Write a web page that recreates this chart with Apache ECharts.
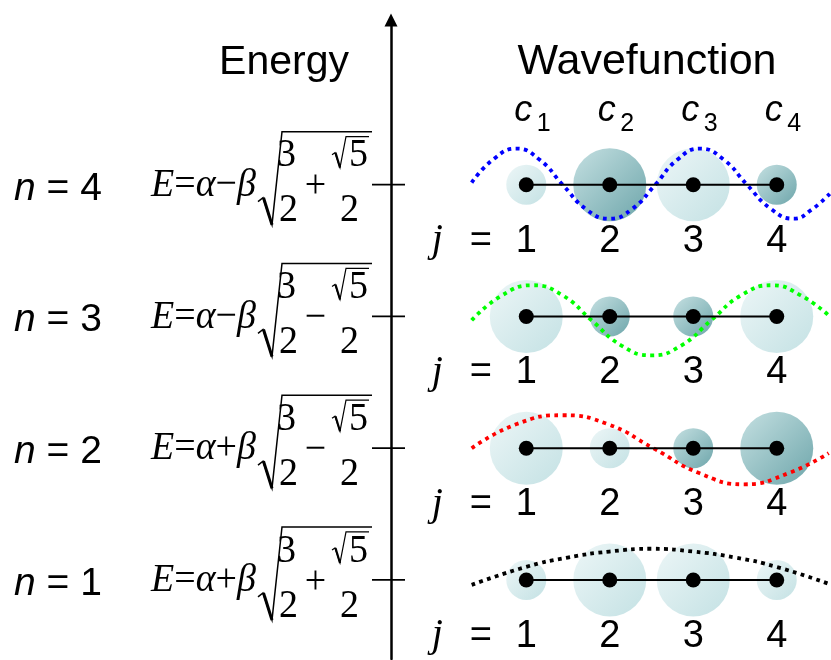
<!DOCTYPE html>
<html><head><meta charset="utf-8">
<script src="https://cdn.jsdelivr.net/npm/echarts@6/dist/echarts.min.js"></script>
<style>html,body{margin:0;padding:0;background:#fff}#c{width:831px;height:660px}</style>
</head><body><div id="c"></div>
<script>
// ---- data ----
const levels = [1, 2, 3, 4];                 // energy levels n
const atoms = [1, 2, 3, 4];                  // atom index j
const atomLabels = ['1', '2', '3', '4'];
const betaSign = ['+', '+', '\u2212', '\u2212'];   // sign before beta, n = 1..4
const rootSign = ['+', '\u2212', '\u2212', '+'];   // sign inside the root, n = 1..4
const coefN1 = [0.372, 0.602, 0.602, 0.372];
const coefN2 = [0.602, 0.372, -0.372, -0.602];
const coefN3 = [0.602, -0.372, -0.372, 0.602];
const coefN4 = [0.372, -0.602, 0.602, -0.372];
// wavefunction curves: [j, psi] (psi in units of curve amplitude)
const waveN1 = [[0.346,-0.14],[0.994,0.37],[1.495,0.64],[1.996,0.81],[2.498,0.89],[2.999,0.81],[3.500,0.64],[4.001,0.37],[4.622,-0.11]];
const waveN2 = [[0.346,0],[0.887,0.69],[1.436,0.94],[1.973,0.69],[2.522,0],[3.071,-0.71],[3.608,-1.03],[4.145,-0.71],[4.622,-0.14]];
const waveN3 = [[0.346,-0.11],[0.708,0.60],[1.077,0.89],[1.436,0.60],[1.782,-0.11],[2.140,-0.83],[2.498,-1.11],[2.856,-0.83],[3.214,-0.11],[3.572,0.60],[3.942,0.89],[4.288,0.60],[4.622,0.03]];
const waveN4 = [[0.346,0.06],[0.612,0.74],[0.883,1.03],[1.161,0.71],[1.436,0],[1.722,-0.71],[1.996,-0.97],[2.270,-0.69],[2.545,0],[2.808,0.71],[3.082,1.03],[3.368,0.71],[3.643,0],[3.930,-0.69],[4.204,-0.97],[4.419,-0.71],[4.634,-0.26]];

// ---- build ----
const coefRows = [coefN1, coefN2, coefN3, coefN4];
const waveRows = [waveN1, waveN2, waveN3, waveN4];
const waveColors = ['#000000', '#ff0000', '#00ff00', '#0000ff'];
const waveScale = 0.266;
const SERIF = '"Liberation Serif", "Times New Roman", serif';
const SANS = '"Liberation Sans", Arial, sans-serif';

const allAbs = coefRows.flat().map(Math.abs);
const cMin = Math.min(...allAbs), cMax = Math.max(...allAbs);
const sizeOf = c => 40 + (Math.abs(c) - cMin) / (cMax - cMin) * 33;
const lightFill = {type:'linear', x:0, y:0, x2:1, y2:1, colorStops:[{offset:0,color:'#e8f4f5'},{offset:1,color:'#b5dadd'}]};
const darkFill = {type:'linear', x:0, y:0, x2:1, y2:1, colorStops:[{offset:0,color:'#b6d8da'},{offset:1,color:'#4a9096'}]};

function T(text, x, y, size, family, align, extra) {
  return Object.assign({type:'text', x:x, y:y, style:{text:text, fontSize:size, fontFamily:family, fill:'#000',
    align:align, textAlign:align, verticalAlign:'middle', textVerticalAlign:'middle'}}, extra || {});
}

function renderFormula(params, api) {
  const r = params.dataIndex;
  const n = api.value(1);
  const y0 = api.coord([0, n])[1];
  const X = v => api.coord([v, n])[0];
  const P = (x, dy) => [X(x), y0 + dy];
  const tall = {scaleY:1.07};
  const children = [];
  const nl = T('{i|n} = ' + n, X(14), y0 + 4.2, 39, SANS, 'left');
  nl.style.rich = {i:{fontStyle:'italic', fontSize:39, fontFamily:SANS}};
  children.push(nl);
  const main = T('{i|E}={i|\u03b1}' + betaSign[r] + '{i|\u03b2}', X(151), y0 + 0.5, 38, SERIF, 'left', tall);
  main.style.rich = {i:{fontStyle:'italic', fontSize:38, fontFamily:SERIF}};
  children.push(main);
  children.push(T('3', X(286.5), y0 - 29, 38, SERIF, 'center', tall));
  children.push(T('2', X(288.5), y0 + 26, 38, SERIF, 'center', tall));
  children.push(T(rootSign[r], X(315.5), y0 + 2, 38, SERIF, 'center', tall));
  children.push(T('5', X(358.5), y0 - 29, 38, SERIF, 'center', tall));
  children.push(T('2', X(349.5), y0 + 26, 38, SERIF, 'center', tall));
  // big radical
  children.push({type:'polyline', shape:{points:[P(258,17),P(263,13),P(272,40),P(282,-53),P(372,-53)]},
    style:{stroke:'#000', lineWidth:1.5, fill:null}});
  children.push({type:'line', shape:{x1:X(263.5), y1:y0+13, x2:X(272), y2:y0+40}, style:{stroke:'#000', lineWidth:3}});
  // small radical
  children.push({type:'polyline', shape:{points:[P(332,-30),P(335,-32),P(340,-17),P(346,-48),P(369,-48)]},
    style:{stroke:'#000', lineWidth:1.2, fill:null}});
  children.push({type:'line', shape:{x1:X(335.5), y1:y0-32, x2:X(340), y2:y0-17}, style:{stroke:'#000', lineWidth:2.2}});
  // level tick across the energy axis
  children.push({type:'line', shape:{x1:X(372), y1:y0, x2:X(405), y2:y0}, style:{stroke:'#000', lineWidth:1.8}});
  return {type:'group', children:children};
}

function renderLabels(params, api) {
  const n = api.value(1);
  const y0 = api.coord([1, n])[1];
  const Xj = j => api.coord([j, n])[0];
  const children = [];
  atoms.forEach((j, k) => children.push(T(atomLabels[k], Xj(j), y0 + 56.5, 38, SANS, 'center')));
  const jl = T('j', Xj(1) - 89, y0 + 56, 40, SERIF, 'center');
  jl.style.fontStyle = 'italic';
  children.push(jl);
  children.push(T('=', Xj(1) - 45.5, y0 + 56.5, 38, SANS, 'center'));
  if (n === Math.max(...levels)) {
    atoms.forEach((j, k) => {
      const c = T('c', Xj(j) - 12, y0 - 73.9, 36, SANS, 'left');
      c.style.fontStyle = 'italic';
      children.push(c);
      children.push(T(atomLabels[k], Xj(j) + 10.5, y0 - 60.5, 25, SANS, 'left'));
    });
  }
  return {type:'group', children:children};
}

const circleData = [];
levels.forEach((n, r) => atoms.forEach((j, k) => {
  const c = coefRows[r][k];
  circleData.push({value:[j, n, c], symbolSize:sizeOf(c), itemStyle:{color: c >= 0 ? lightFill : darkFill}});
}));

const series = [
  {type:'custom', xAxisIndex:0, yAxisIndex:0, data: levels.map(n => [0, n]), renderItem: renderFormula, silent:true, z:5},
  {type:'custom', xAxisIndex:1, yAxisIndex:1, data: levels.map(n => [1, n]), renderItem: renderLabels, silent:true, z:5},
  {type:'scatter', xAxisIndex:1, yAxisIndex:1, data: circleData, symbol:'circle', silent:true, z:2, clip:false}
];
levels.forEach((n, r) => {
  series.push({type:'line', xAxisIndex:1, yAxisIndex:1, smooth:true, showSymbol:false, silent:true, clip:false, z:3,
    data: waveRows[r].map(p => [p[0], n + p[1] * waveScale]),
    lineStyle:{color:waveColors[r], width:3.8, type:[3.8, 4.4], cap:'butt'}});
  series.push({type:'line', xAxisIndex:1, yAxisIndex:1, silent:true, clip:false, z:4,
    data: atoms.map(j => [j, n]), symbol:'circle', symbolSize:15, showAllSymbol:true,
    itemStyle:{color:'#000'}, lineStyle:{color:'#000', width:2}});
});

const yMin = 0.4, yMax = 5.25;
const chart = echarts.init(document.getElementById('c'), null, {renderer:'canvas'});
chart.setOption({
  animation:false,
  backgroundColor:'#ffffff',
  grid:[
    {left:0, width:391, top:20, bottom:1},
    {left:467.84, width:364.53, top:20, bottom:1}
  ],
  xAxis:[
    {gridIndex:0, type:'value', min:0, max:391, show:false},
    {gridIndex:1, type:'value', min:0.3, max:4.65, show:false}
  ],
  yAxis:[
    {gridIndex:0, type:'value', min:yMin, max:yMax, position:'right',
      axisLine:{show:true, onZero:false, symbol:['none','triangle'], symbolSize:[13,13], lineStyle:{color:'#000', width:2.5}},
      axisTick:{show:false}, axisLabel:{show:false}, splitLine:{show:false}},
    {gridIndex:1, type:'value', min:yMin, max:yMax, show:false}
  ],
  graphic:[
    {type:'text', x:284, y:62.3, style:{text:'Energy', fontSize:41, fontFamily:SANS, fill:'#000', align:'center', textAlign:'center', verticalAlign:'middle', textVerticalAlign:'middle'}},
    {type:'text', x:647, y:61.7, style:{text:'Wavefunction', fontSize:43, fontFamily:SANS, fill:'#000', align:'center', textAlign:'center', verticalAlign:'middle', textVerticalAlign:'middle'}}
  ],
  series: series
});
</script></body></html>
